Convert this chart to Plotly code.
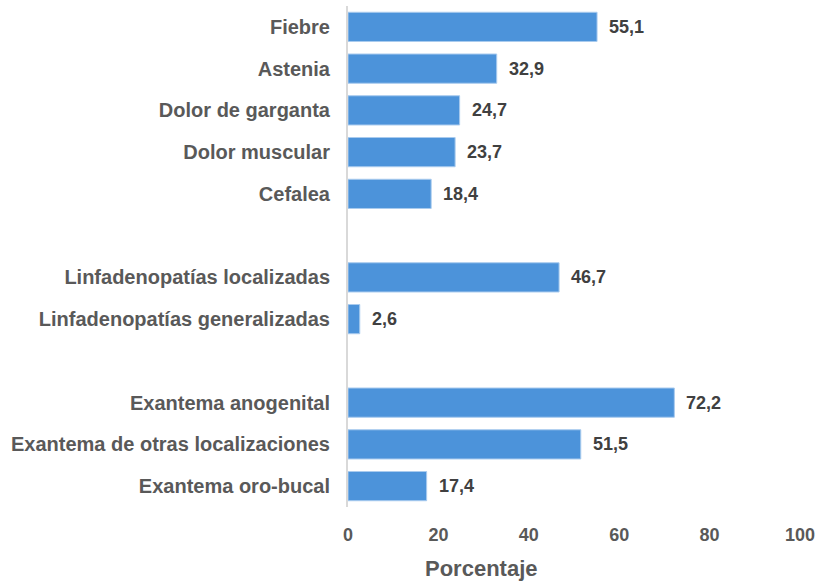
import plotly.graph_objects as go

categories = [
    "Fiebre", "Astenia", "Dolor de garganta", "Dolor muscular", "Cefalea",
    "",
    "Linfadenopatías localizadas", "Linfadenopatías generalizadas",
    "",
    "Exantema anogenital", "Exantema de otras localizaciones", "Exantema oro-bucal",
]
values = [55.1, 32.9, 24.7, 23.7, 18.4, None, 46.7, 2.6, None, 72.2, 51.5, 17.4]
x_ticks = [0, 20, 40, 60, 80, 100]
x_title = "Porcentaje"

positions = list(range(len(categories)))
bar_pos = [p for p, v in zip(positions, values) if v is not None]
bar_val = [v for v in values if v is not None]
tick_pos = [p for p, c in zip(positions, categories) if c]
tick_txt = [c for c in categories if c]

FONT = "Liberation Sans, Arial, sans-serif"

fig = go.Figure()
fig.add_trace(go.Bar(
    x=bar_val, y=bar_pos, orientation="h",
    marker=dict(color="#4C93DA", line=dict(color="#A9CBEE", width=1)),
    width=0.7,
    hoverinfo="x+y",
))

for p, v in zip(bar_pos, bar_val):
    fig.add_annotation(
        x=v, y=p, xref="x", yref="y",
        text=f"<b>{v:.1f}</b>".replace(".", ","),
        showarrow=False, xanchor="left", yanchor="middle", xshift=10,
        font=dict(family=FONT, size=18, color="#404040"),
    )

# x-axis title (placed left of the plot centre, as in the reference)
fig.add_annotation(
    x=0.296, y=-0.122, xref="paper", yref="paper",
    text=f"<b>{x_title}</b>", showarrow=False,
    xanchor="center", yanchor="middle",
    font=dict(family=FONT, size=22, color="#595959"),
)

fig.update_layout(
    width=815, height=581,
    margin=dict(l=348, r=15, t=6, b=74),
    paper_bgcolor="white", plot_bgcolor="white",
    showlegend=False,
    font=dict(family=FONT),
)
fig.update_xaxes(
    automargin=False, ticklabeloverflow="allow",
    range=[0, 100], tickvals=x_ticks,
    ticktext=[f"<b>{t}</b>" for t in x_ticks],
    showgrid=False, zeroline=False, showline=False,
    ticks="outside", ticklen=11, tickcolor="rgba(0,0,0,0)",
    tickfont=dict(family=FONT, size=18, color="#595959"),
)
fig.update_yaxes(
    automargin=False,
    range=[len(categories) - 0.5, -0.5],
    tickvals=tick_pos, ticktext=[f"<b>{t}</b>" for t in tick_txt],
    showgrid=False, zeroline=False,
    showline=True, linecolor="#D9D9D9", linewidth=2,
    ticks="outside", ticklen=12, tickcolor="rgba(0,0,0,0)",
    tickfont=dict(family=FONT, size=20, color="#595959"),
)

fig.write_html("out.html", config={"displayModeBar": False},
               post_script="document.body.style.margin='0';")
